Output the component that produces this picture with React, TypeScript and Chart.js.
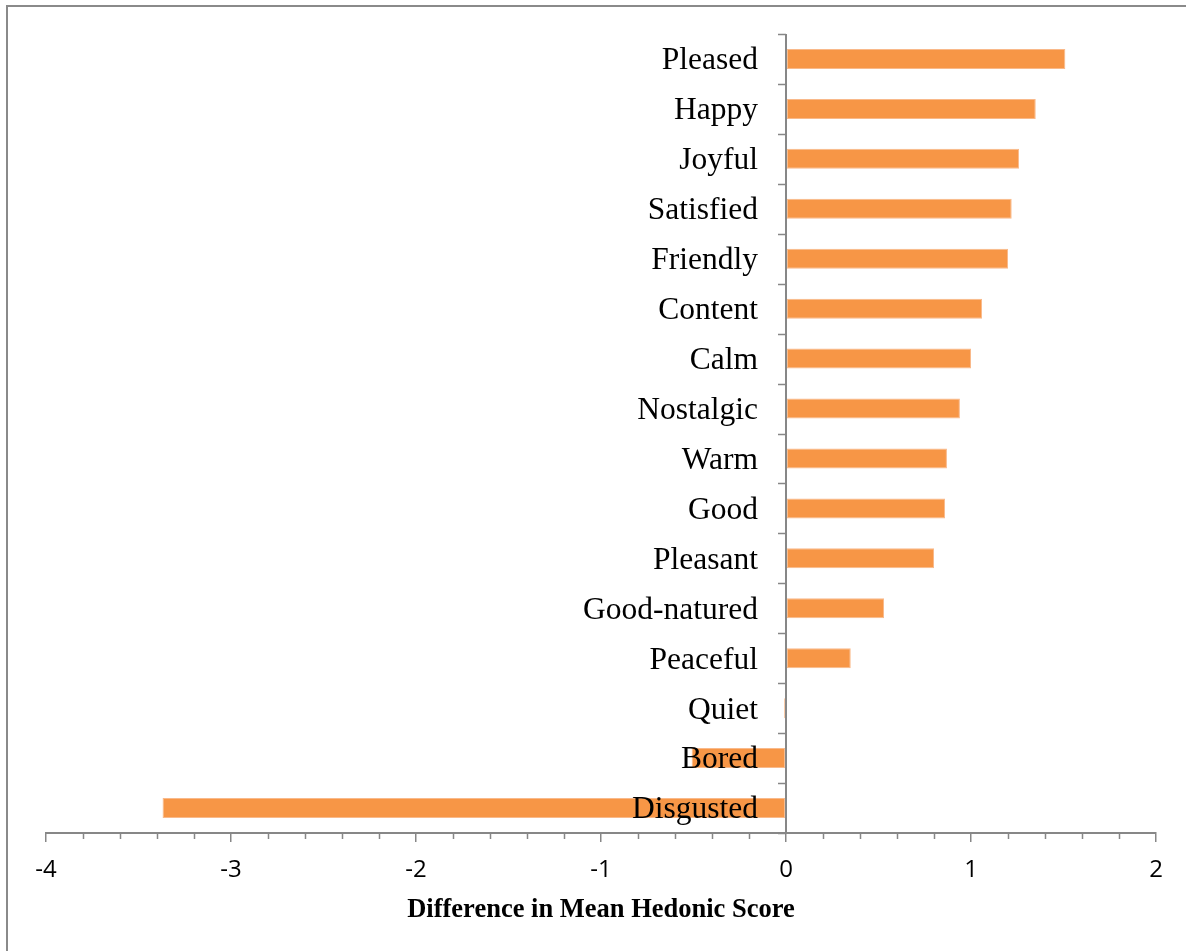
import React, { useEffect, useRef } from "react";
import { Chart, registerables } from "chart.js";

Chart.register(...registerables);

// Emotion terms, listed top to bottom
const categories: string[] = [
  "Pleased",
  "Happy",
  "Joyful",
  "Satisfied",
  "Friendly",
  "Content",
  "Calm",
  "Nostalgic",
  "Warm",
  "Good",
  "Pleasant",
  "Good-natured",
  "Peaceful",
  "Quiet",
  "Bored",
  "Disgusted",
];

// Difference in mean hedonic score per term
const differences: number[] = [
  1.51, 1.35, 1.26, 1.22, 1.2, 1.06, 1.0, 0.94, 0.87, 0.86, 0.8, 0.53, 0.35,
  -0.01, -0.51, -3.37,
];

const xMin = -4;
const xMax = 2;
const majorStep = 1;
const minorStep = 0.2;
const axisTitle = "Difference in Mean Hedonic Score";

const AXIS_GREY = "#878787";
const BAR_FILL = "#F79646";
const SERIF = '"Liberation Serif", "Times New Roman", serif';

// Outer frame of the figure (left and top edges are visible)
const framePlugin = {
  id: "frame",
  beforeDraw(chart: any) {
    const { ctx } = chart;
    ctx.save();
    ctx.strokeStyle = "#8a8a8a";
    ctx.lineWidth = 2;
    ctx.beginPath();
    ctx.moveTo(7, chart.height + 10);
    ctx.lineTo(7, 6);
    ctx.lineTo(chart.width + 10, 6);
    ctx.stroke();
    ctx.restore();
  },
};

// Minor tick marks along the value axis
const minorTicksPlugin = {
  id: "minorTicks",
  afterDraw(chart: any) {
    const { ctx, chartArea } = chart;
    const xs = chart.scales.x;
    const count = Math.round((xMax - xMin) / minorStep);
    ctx.save();
    ctx.strokeStyle = AXIS_GREY;
    ctx.lineWidth = 1.5;
    for (let i = 0; i <= count; i++) {
      const v = xMin + i * minorStep;
      if (Math.abs(v - Math.round(v)) < 1e-6) continue;
      const px = Math.round(xs.getPixelForValue(v)) + 0.5;
      ctx.beginPath();
      ctx.moveTo(px, chartArea.bottom);
      ctx.lineTo(px, chartArea.bottom + 6);
      ctx.stroke();
    }
    ctx.restore();
  },
};

// Category axis drawn at x = 0 with its labels to the left of it
const zeroAxisPlugin = {
  id: "zeroAxis",
  afterDatasetsDraw(chart: any) {
    const { ctx, chartArea } = chart;
    const xs = chart.scales.x;
    const ys = chart.scales.y;
    const x0 = xs.getPixelForValue(0);
    ctx.save();
    ctx.strokeStyle = AXIS_GREY;
    ctx.lineWidth = 2;
    ctx.beginPath();
    ctx.moveTo(x0, chartArea.top);
    ctx.lineTo(x0, chartArea.bottom);
    ctx.stroke();

    ctx.lineWidth = 1.5;
    for (let i = 0; i <= categories.length; i++) {
      const y = Math.round(ys.getPixelForValue(i - 0.5)) + 0.5;
      ctx.beginPath();
      ctx.moveTo(x0 - 8, y);
      ctx.lineTo(x0, y);
      ctx.stroke();
    }

    const size = 31.5;
    ctx.fillStyle = "#000";
    ctx.font = `${size}px ${SERIF}`;
    ctx.textAlign = "right";
    ctx.textBaseline = "alphabetic";
    categories.forEach((label, i) => {
      const y = ys.getPixelForValue(i);
      ctx.fillText(label, x0 - 28, y + size * 0.33);
    });
    ctx.restore();
  },
};

export default function App() {
  const canvasRef = useRef<HTMLCanvasElement | null>(null);

  useEffect(() => {
    const canvas = canvasRef.current;
    if (!canvas) return;
    const chart = new Chart(canvas, {
      type: "bar",
      data: {
        labels: categories,
        datasets: [
          {
            data: differences,
            backgroundColor: BAR_FILL,
            borderColor: "#F9B98A",
            borderWidth: 1,
            borderSkipped: false,
            categoryPercentage: 1,
            barPercentage: 0.4,
          },
        ],
      },
      options: {
        indexAxis: "y",
        responsive: false,
        animation: false,
        layout: { padding: { left: 46, right: 30, top: 34, bottom: 0 } },
        plugins: {
          legend: { display: false },
          tooltip: { enabled: false },
        },
        scales: {
          x: {
            type: "linear",
            min: xMin,
            max: xMax,
            ticks: {
              stepSize: majorStep,
              color: "#000",
              font: { family: "'Open Sans'", size: 24 },
              padding: 14,
            },
            grid: {
              drawOnChartArea: false,
              drawTicks: true,
              tickLength: 9,
              color: AXIS_GREY,
              lineWidth: 1.5,
            },
            border: { display: true, color: AXIS_GREY, width: 2 },
            title: {
              display: true,
              text: axisTitle,
              color: "#000",
              font: { family: SERIF, size: 26.5, weight: "bold" },
              padding: { top: 0, bottom: 25 },
            },
            afterFit(scale: any) {
              scale.height = 118;
            },
          },
          y: {
            display: false,
          },
        },
      },
      plugins: [framePlugin, minorTicksPlugin, zeroAxisPlugin],
    } as any);
    return () => chart.destroy();
  }, []);

  return (
    <div
      style={{
        position: "absolute",
        left: 0,
        top: 0,
        width: 1186,
        height: 951,
        background: "#fff",
      }}
    >
      <canvas ref={canvasRef} width={1186} height={951} />
    </div>
  );
}
